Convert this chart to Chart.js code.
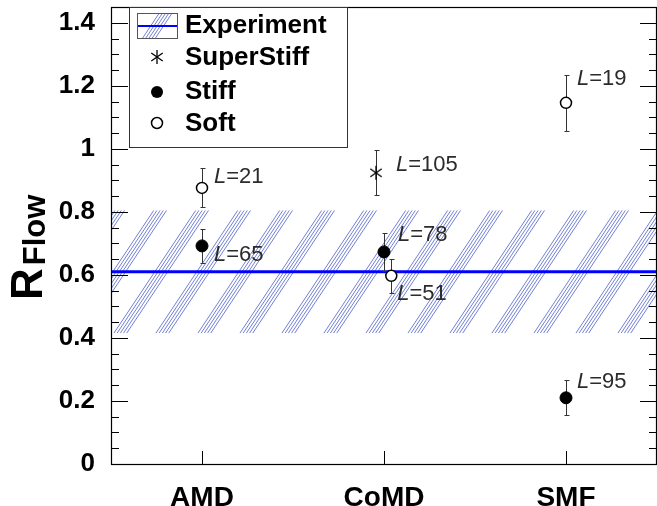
<!DOCTYPE html>
<html>
<head>
<meta charset="utf-8">
<script src="https://cdn.jsdelivr.net/npm/chart.js@4/dist/chart.umd.min.js"></script>
<style>
  html, body { margin: 0; padding: 0; background: #fff; overflow: hidden; }
  canvas { display: block; }
</style>
</head>
<body>
<canvas id="c" width="657" height="506"></canvas>
<script>
// ---- data ----
const models = ['AMD', 'CoMD', 'SMF'];
const superStiff    = [null, 0.924, null];
const superStiffErr = [null, 0.071, null];
const superStiffL   = [null, 105, null];
const stiff    = [0.692, 0.673, 0.21];
const stiffErr = [0.055, 0.06, 0.055];
const stiffL   = [65, 78, 95];
const soft    = [0.876, 0.597, 1.146];
const softErr = [0.062, 0.054, 0.089];
const softL   = [21, 51, 19];
const expValue = 0.61;
const expLow = 0.415;
const expHigh = 0.805;
const yTicks = [0, 0.2, 0.4, 0.6, 0.8, 1, 1.2, 1.4];

// small horizontal dodge so the CoMD points don't overlap
const dodge = { superStiff: [0, -0.044, 0], stiff: [0, 0, 0], soft: [0, 0.04, 0] };
// where the L= text sits relative to its marker (px)
const labelOff = {
  superStiff: [null, [20, -8], null],
  stiff: [[12, 9], [14, -17], [11, -16]],
  soft: [[12, -11], [6, 18], [11, -24]],
};

const FONT = "'Liberation Sans', Arial, Helvetica, sans-serif";
Chart.defaults.font.family = FONT;
// the frame runs to the canvas edge, so no extra room for marker overflow
Chart.registry.getController('scatter').prototype.getMaxOverflow = () => 0;

function starImg(r) {
  const c = document.createElement('canvas');
  c.width = c.height = 2 * r + 2;
  const g = c.getContext('2d');
  g.strokeStyle = '#000'; g.lineWidth = 1.3;
  const cx = r + 1, cy = r + 1;
  [90, 35, 145].forEach((a) => {
    const t = a * Math.PI / 180;
    g.beginPath();
    g.moveTo(cx - r * Math.cos(t), cy - r * Math.sin(t));
    g.lineTo(cx + r * Math.cos(t), cy + r * Math.sin(t));
    g.stroke();
  });
  return c;
}
const STAR = starImg(7);

const pts = (vals, err, L, key) => vals.map((v, i) => v == null ? null :
  { x: i + 1 + dodge[key][i], y: v, err: err[i], L: L[i], off: labelOff[key][i] }).filter(Boolean);

function hatch(ctx, x0, y0, x1, y1) {
  ctx.save();
  ctx.beginPath(); ctx.rect(x0, y0, x1 - x0, y1 - y0); ctx.clip();
  ctx.strokeStyle = 'rgba(45,65,190,0.85)'; ctx.lineWidth = 0.8;
  const run = (y1 - y0) / 1.5;
  const start = -((y1) / 1.5) % 42;
  for (let gx = start - 42 * Math.ceil((run + 60) / 42); gx < x1 + 10; gx += 42) {
    for (let k = 0; k < 5; k++) {
      const sx = gx + k * 3.2;
      ctx.beginPath(); ctx.moveTo(sx, y1); ctx.lineTo(sx + run, y0); ctx.stroke();
    }
  }
  ctx.restore();
}

const band = {
  id: 'band',
  beforeDatasetsDraw(chart) {
    const { ctx, chartArea: a, scales: { x, y } } = chart;
    const yt = y.getPixelForValue(expHigh), yb = y.getPixelForValue(expLow);
    hatch(ctx, a.left, yt, a.right, yb);
    ctx.save();
    ctx.strokeStyle = '#0000ff'; ctx.lineWidth = 3;
    const ye = y.getPixelForValue(expValue);
    ctx.beginPath(); ctx.moveTo(a.left, ye); ctx.lineTo(a.right, ye); ctx.stroke();
    // error bars
    ctx.strokeStyle = '#333'; ctx.lineWidth = 1;
    chart.data.datasets.forEach((ds) => ds.data.forEach((p) => {
      const px = Math.round(x.getPixelForValue(p.x)) + 0.5;
      const t = Math.round(y.getPixelForValue(p.y + p.err)) + 0.5;
      const b = Math.round(y.getPixelForValue(p.y - p.err)) + 0.5;
      ctx.beginPath();
      ctx.moveTo(px, t); ctx.lineTo(px, b);
      ctx.moveTo(px - 2, t); ctx.lineTo(px + 3, t);
      ctx.moveTo(px - 2, b); ctx.lineTo(px + 3, b);
      ctx.stroke();
    }));
    ctx.restore();
  },
  afterDatasetsDraw(chart) {
    const { ctx, scales: { x, y } } = chart;
    ctx.save();
    ctx.fillStyle = '#2b2b2b'; ctx.textBaseline = 'middle'; ctx.textAlign = 'left';
    chart.data.datasets.forEach((ds) => ds.data.forEach((p) => {
      const px = x.getPixelForValue(p.x) + p.off[0];
      const py = y.getPixelForValue(p.y) + p.off[1];
      ctx.font = 'italic 22px ' + FONT;
      ctx.fillText('L', px, py);
      const w = ctx.measureText('L').width;
      ctx.font = '22px ' + FONT;
      ctx.fillText('=' + p.L, px + w, py);
    }));
    ctx.restore();
  },
};

const frame = {
  id: 'frame',
  afterDraw(chart) {
    const { ctx, chartArea: a, scales: { x, y } } = chart;
    ctx.save();
    ctx.strokeStyle = '#000'; ctx.lineWidth = 1.2;
    ctx.strokeRect(a.left + 0.5, a.top + 0.5, a.right - a.left - 1, a.bottom - a.top);
    ctx.lineWidth = 1;
    const seg = (x0, y0, x1, y1) => { ctx.beginPath(); ctx.moveTo(x0, y0); ctx.lineTo(x1, y1); ctx.stroke(); };
    for (let i = 0; i * 0.05 <= y.max + 1e-9; i++) {
      const py = Math.round(y.getPixelForValue(i * 0.05)) + 0.5;
      const len = i % 4 === 0 ? 17 : 8;
      seg(a.left, py, a.left + len, py);
      seg(a.right, py, a.right - len, py);
    }
    models.forEach((m, i) => {
      const px = Math.round(x.getPixelForValue(i + 1)) + 0.5;
      seg(px, a.bottom, px, a.bottom - 13);
    });

    // legend
    ctx.fillStyle = '#fff';
    ctx.fillRect(129, 7, 218, 140);
    ctx.strokeStyle = '#333'; ctx.lineWidth = 1;
    ctx.strokeRect(129.5, 7.5, 218, 140);
    hatch(ctx, 137, 13, 177, 38);
    ctx.strokeStyle = '#555';
    ctx.strokeRect(137.5, 13.5, 40, 25);
    ctx.strokeStyle = '#0000ff'; ctx.lineWidth = 2;
    seg(138, 26, 177, 26);
    ctx.drawImage(STAR, 157 - STAR.width / 2, 57 - STAR.height / 2);
    ctx.fillStyle = '#000';
    ctx.beginPath(); ctx.arc(157, 92, 6, 0, Math.PI * 2); ctx.fill();
    ctx.strokeStyle = '#000'; ctx.lineWidth = 1.5;
    ctx.fillStyle = '#fff';
    ctx.beginPath(); ctx.arc(157, 123, 5.5, 0, Math.PI * 2); ctx.fill(); ctx.stroke();
    ctx.fillStyle = '#000'; ctx.font = 'bold 26px ' + FONT;
    ctx.textBaseline = 'middle'; ctx.textAlign = 'left';
    [['Experiment', 26], ['SuperStiff', 58], ['Stiff', 92], ['Soft', 124]].forEach(([t, ty]) => ctx.fillText(t, 185, ty));

    // y title R_Flow
    ctx.translate(42, 300); ctx.rotate(-Math.PI / 2);
    ctx.textBaseline = 'alphabetic';
    ctx.font = 'bold 44px ' + FONT;
    ctx.fillText('R', 0, 0);
    const w = ctx.measureText('R').width;
    ctx.font = 'bold 31px ' + FONT;
    ctx.fillText('Flow', w + 3, 3);
    ctx.restore();
  },
};

new Chart(document.getElementById('c'), {
  type: 'scatter',
  data: {
    datasets: [
      { label: 'SuperStiff', data: pts(superStiff, superStiffErr, superStiffL, 'superStiff'),
        pointStyle: STAR, pointRadius: 7 },
      { label: 'Stiff', data: pts(stiff, stiffErr, stiffL, 'stiff'),
        pointStyle: 'circle', pointRadius: 6, backgroundColor: '#000', borderColor: '#000', borderWidth: 1 },
      { label: 'Soft', data: pts(soft, softErr, softL, 'soft'),
        pointStyle: 'circle', pointRadius: 5.5, backgroundColor: '#fff', borderColor: '#000', borderWidth: 1.5 },
    ],
  },
  options: {
    responsive: false,
    animation: false,
    devicePixelRatio: 1,
    layout: { padding: { top: 7, right: 0, left: 0, bottom: 0 } },
    plugins: { legend: { display: false }, tooltip: { enabled: false } },
    scales: {
      x: {
        type: 'linear', min: 0.5, max: 3.5,
        grid: { display: false }, border: { display: false },
        afterBuildTicks: (s) => { s.ticks = models.map((_, i) => ({ value: i + 1 })); },
        afterFit: (s) => { s.height = 42; s.paddingLeft = 0; s.paddingRight = 0; },
        ticks: {
          autoSkip: false, maxRotation: 0, padding: 9, color: '#000',
          font: { size: 28, weight: 'bold' },
          callback: (v) => models[Math.round(v) - 1],
        },
      },
      y: {
        min: 0, max: 1.45,
        grid: { display: false }, border: { display: false },
        afterBuildTicks: (s) => { s.ticks = yTicks.map((v) => ({ value: v })); },
        afterFit: (s) => { s.width = 111; s.paddingTop = 0; s.paddingBottom = 0; },
        ticks: {
          padding: 8, color: '#000',
          font: { size: 26, weight: 'bold' },
          callback: (v) => String(Math.round(v * 10) / 10),
        },
      },
    },
  },
  plugins: [band, frame],
});
</script>
</body>
</html>
